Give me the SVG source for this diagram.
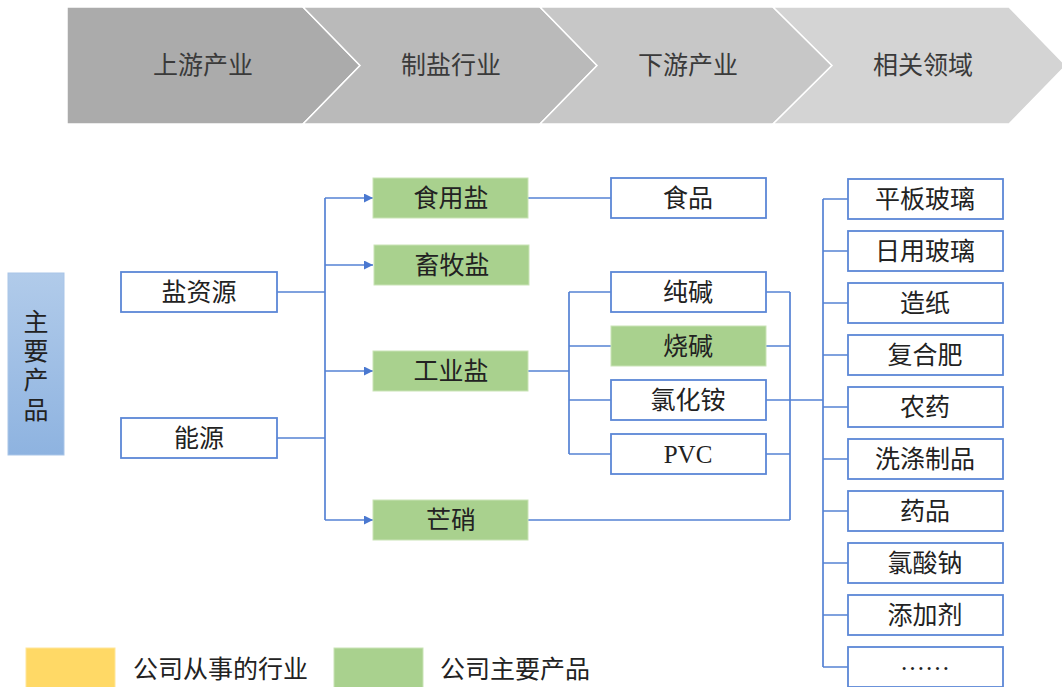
<svg xmlns="http://www.w3.org/2000/svg" width="1062" height="687" viewBox="0 0 1062 687">
<defs>
<linearGradient id="gBlue" x1="0" y1="0" x2="0" y2="1">
<stop offset="0" stop-color="#b1cbea"/>
<stop offset="1" stop-color="#8eb3e0"/>
</linearGradient>
<marker id="arr" viewBox="0 0 10 10" refX="10" refY="5" markerWidth="9" markerHeight="9" markerUnits="userSpaceOnUse" orient="auto">
<path d="M0,0 L10,5 L0,10 z" fill="#4a78d0"/>
</marker>
<style>
.chev{stroke:#fff;stroke-width:1.5}
.ct{font-family:"Liberation Serif","Noto Sans CJK SC",serif;font-size:25px;fill:#3a3a3a;text-anchor:middle;dominant-baseline:central}
.box{fill:#fff;stroke:#5b87d6;stroke-width:1.8}
.gbox{fill:#a9d18e;stroke:#c9e3b6;stroke-width:1}
.t{font-family:"Liberation Serif","Noto Sans CJK SC",serif;font-size:25px;fill:#222;text-anchor:middle;dominant-baseline:central}
.lt{font-family:"Noto Sans CJK SC",sans-serif;font-size:25px;fill:#222;dominant-baseline:central}
.c{fill:none;stroke:#5582d4;stroke-width:1.7}
</style>
</defs>
<g id="banner">
<polygon class="chev" points="67,7 303,7 360,65.5 303,124 67,124" fill="#ababab"/>
<polygon class="chev" points="303,7 540,7 597,65.5 540,124 303,124 360,65.5" fill="#bababa"/>
<polygon class="chev" points="540,7 773,7 832,65.5 773,124 540,124 597,65.5" fill="#c7c7c7"/>
<polygon class="chev" points="773,7 1009,7 1066,65.5 1009,124 773,124 832,65.5" fill="#d4d4d4"/>
<text class="ct" x="203" y="65">上游产业</text>
<text class="ct" x="451" y="65">制盐行业</text>
<text class="ct" x="688" y="65">下游产业</text>
<text class="ct" x="923" y="65">相关领域</text>
</g>
<g id="connectors">
<path class="c" d="M277,292 H325 M277,438 H325"/>
<path class="c" d="M325,198 V520"/>
<path class="c" d="M325,198 H373" marker-end="url(#arr)"/>
<path class="c" d="M325,265 H373" marker-end="url(#arr)"/>
<path class="c" d="M325,371 H373" marker-end="url(#arr)"/>
<path class="c" d="M325,520 H373" marker-end="url(#arr)"/>
<path class="c" d="M528,198 H611"/>
<path class="c" d="M528,371 H569 M569,292 V454 M569,292 H611 M569,346 H611 M569,400 H611 M569,454 H611"/>
<path class="c" d="M766,292 H790 M766,346 H790 M766,454 H790 M790,292 V520 M528,520 H790"/>
<path class="c" d="M766,400 H823"/>
<path class="c" d="M823,199 V667 M823,199 H848 M823,251 H848 M823,303 H848 M823,355 H848 M823,407 H848 M823,459 H848 M823,511 H848 M823,563 H848 M823,615 H848 M823,667 H848"/>
</g>
<g id="n-main"><rect x="8" y="273" width="56" height="182" fill="url(#gBlue)" stroke="#a9c5e8" stroke-width="1"/>
<text class="t" x="36" y="322">主</text><text class="t" x="36" y="351">要</text><text class="t" x="36" y="380">产</text><text class="t" x="36" y="410">品</text></g>
<g id="n-yanziyuan"><rect class="box" x="121" y="272" width="156" height="40"/><text class="t" x="199" y="292">盐资源</text></g>
<g id="n-nengyuan"><rect class="box" x="121" y="418" width="156" height="40"/><text class="t" x="199" y="438">能源</text></g>
<g id="n-shiyongyan"><rect class="gbox" x="373" y="178" width="155" height="40"/><text class="t" x="451" y="198">食用盐</text></g>
<g id="n-xumuyan"><rect class="gbox" x="374" y="245" width="155" height="40"/><text class="t" x="452" y="265">畜牧盐</text></g>
<g id="n-gongyeyan"><rect class="gbox" x="373" y="351" width="155" height="40"/><text class="t" x="451" y="371">工业盐</text></g>
<g id="n-mangxiao"><rect class="gbox" x="373" y="500" width="155" height="40"/><text class="t" x="451" y="520">芒硝</text></g>
<g id="n-shipin"><rect class="box" x="611" y="178" width="155" height="40"/><text class="t" x="688" y="198">食品</text></g>
<g id="n-chunjian"><rect class="box" x="611" y="272" width="155" height="40"/><text class="t" x="688" y="292">纯碱</text></g>
<g id="n-shaojian"><rect class="gbox" x="611" y="326" width="155" height="40"/><text class="t" x="688" y="346">烧碱</text></g>
<g id="n-lvhuaan"><rect class="box" x="611" y="380" width="155" height="40"/><text class="t" x="688" y="400">氯化铵</text></g>
<g id="n-pvc"><rect class="box" x="611" y="434" width="155" height="40"/><text class="t" x="688" y="454">PVC</text></g>
<g id="n-pingban"><rect class="box" x="848" y="179" width="155" height="40"/><text class="t" x="925" y="199">平板玻璃</text></g>
<g id="n-riyong"><rect class="box" x="848" y="231" width="155" height="40"/><text class="t" x="925" y="251">日用玻璃</text></g>
<g id="n-zaozhi"><rect class="box" x="848" y="283" width="155" height="40"/><text class="t" x="925" y="303">造纸</text></g>
<g id="n-fuhefei"><rect class="box" x="848" y="335" width="155" height="40"/><text class="t" x="925" y="355">复合肥</text></g>
<g id="n-nongyao"><rect class="box" x="848" y="387" width="155" height="40"/><text class="t" x="925" y="407">农药</text></g>
<g id="n-xidi"><rect class="box" x="848" y="439" width="155" height="40"/><text class="t" x="925" y="459">洗涤制品</text></g>
<g id="n-yaopin"><rect class="box" x="848" y="491" width="155" height="40"/><text class="t" x="925" y="511">药品</text></g>
<g id="n-lvsuanna"><rect class="box" x="848" y="543" width="155" height="40"/><text class="t" x="925" y="563">氯酸钠</text></g>
<g id="n-tianjiaji"><rect class="box" x="848" y="595" width="155" height="40"/><text class="t" x="925" y="615">添加剂</text></g>
<g id="n-more"><rect class="box" x="848" y="647" width="155" height="40"/><text class="t" x="925" y="661">……</text></g>
<g id="legend">
<rect x="26" y="648" width="89" height="40" fill="#ffd966" stroke="#ffe699" stroke-width="1"/>
<text class="lt" x="133" y="667">公司从事的行业</text>
<rect x="334" y="648" width="89" height="40" fill="#a9d18e" stroke="#c9e3b6" stroke-width="1"/>
<text class="lt" x="440" y="667">公司主要产品</text>
</g>
</svg>
